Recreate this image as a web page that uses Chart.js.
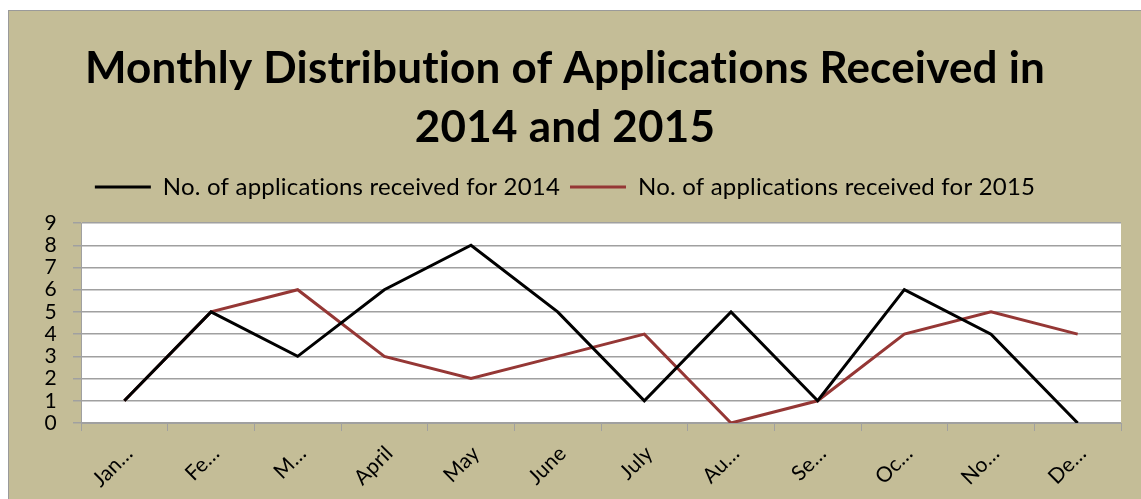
<!DOCTYPE html>
<html>
<head>
<meta charset="utf-8">
<script src="https://cdn.jsdelivr.net/npm/chart.js@4"></script>
<style>
  body { margin: 0; background: #fff; }
  .chart_box {
    position: absolute;
    left: 8px;
    top: 10px;
    width: 1133px;
    height: 489px;
    background: #c4bd97;
    border-left: 1px solid #9a9a9a;
    border-top: 1px solid #9a9a9a;
    box-sizing: border-box;
  }
</style>
</head>
<body>
<div class="chart_box"><canvas id="chart_apps"></canvas></div>
<script>
// ! Data
let months = ["Jan…", "Fe…", "M…", "April", "May", "June", "July", "Au…", "Se…", "Oc…", "No…", "De…"];
let apps2014 = [1, 5, 3, 6, 8, 5, 1, 5, 1, 6, 4, 0];
let apps2015 = [1, 5, 6, 3, 2, 3, 4, 0, 1, 4, 5, 4];
let yTicks = [0, 1, 2, 3, 4, 5, 6, 7, 8, 9];

//! White plot area (+ no "ti" ligature)
const plotBackground = {
  id: "plotBackground",
  beforeLayout(chart) {
    chart.ctx.letterSpacing = "0.2px";
  },
  beforeDraw(chart) {
    const { ctx, chartArea } = chart;
    ctx.letterSpacing = "0.2px";
    ctx.save();
    ctx.fillStyle = "#ffffff";
    ctx.fillRect(chartArea.left, chartArea.top, chartArea.right - chartArea.left, chartArea.bottom - chartArea.top);
    ctx.restore();
  },
};

//! extra space under legend
const legendGap = {
  id: "legendGap",
  beforeInit(chart) {
    const fitValue = chart.legend.fit;
    chart.legend.fit = function () {
      fitValue.bind(chart.legend)();
      this.height += 14;
    };
  },
};

const ctx = document.getElementById("chart_apps");
new Chart(ctx, {
  type: "line",
  data: {
    labels: months,
    datasets: [
      {
        label: "No. of applications received for 2014",
        data: apps2014,
        borderColor: "#000000",
        backgroundColor: "#000000",
        borderWidth: 3,
        pointRadius: 0,
        tension: 0,
      },
      {
        label: "No. of applications received for 2015",
        data: apps2015,
        borderColor: "#953735",
        backgroundColor: "#953735",
        borderWidth: 3,
        pointRadius: 0,
        tension: 0,
      },
    ],
  },
  options: {
    responsive: true,
    maintainAspectRatio: false,
    animation: false,
    layout: {
      padding: { left: 0, right: 20, top: 0, bottom: 0 },
    },
    plugins: {
      title: {
        display: true,
        text: ["Monthly Distribution of Applications Received in", "2014 and 2015"],
        color: "#000000",
        font: { family: "Lato", size: 44, weight: "bold", lineHeight: 1.33 },
        padding: { top: 29, bottom: 8 },
      },
      legend: {
        display: true,
        labels: {
          color: "#000000",
          font: { family: "Lato", size: 24 },
          usePointStyle: true,
          pointStyleWidth: 56,
          pointStyle: "line",
          padding: 10,
        },
      },
      tooltip: { enabled: false },
    },
    scales: {
      x: {
        offset: true,
        grid: {
          display: true,
          drawOnChartArea: false,
          drawTicks: true,
          tickLength: 8,
          color: "#a0a0a0",
          offset: true,
        },
        border: { color: "#a0a0a0" },
        ticks: {
          color: "#000000",
          font: { family: "Lato", size: 21 },
          minRotation: 45,
          maxRotation: 45,
          autoSkip: false,
          labelOffset: 5,
          padding: 10,
        },
        afterFit(scale) {
          scale.height = 76;
        },
      },
      y: {
        min: 0,
        max: 9,
        afterBuildTicks(scale) {
          scale.ticks = yTicks.map((v) => ({ value: v }));
        },
        afterFit(scale) {
          scale.width = 72;
        },
        grid: {
          color: "#a0a0a0",
          lineWidth: 1.5,
          drawTicks: true,
          tickLength: 8,
        },
        border: { color: "#a0a0a0" },
        ticks: {
          color: "#000000",
          font: { family: "Lato", size: 21 },
          autoSkip: false,
          padding: 16,
        },
      },
    },
  },
  plugins: [plotBackground, legendGap],
});
</script>
</body>
</html>
